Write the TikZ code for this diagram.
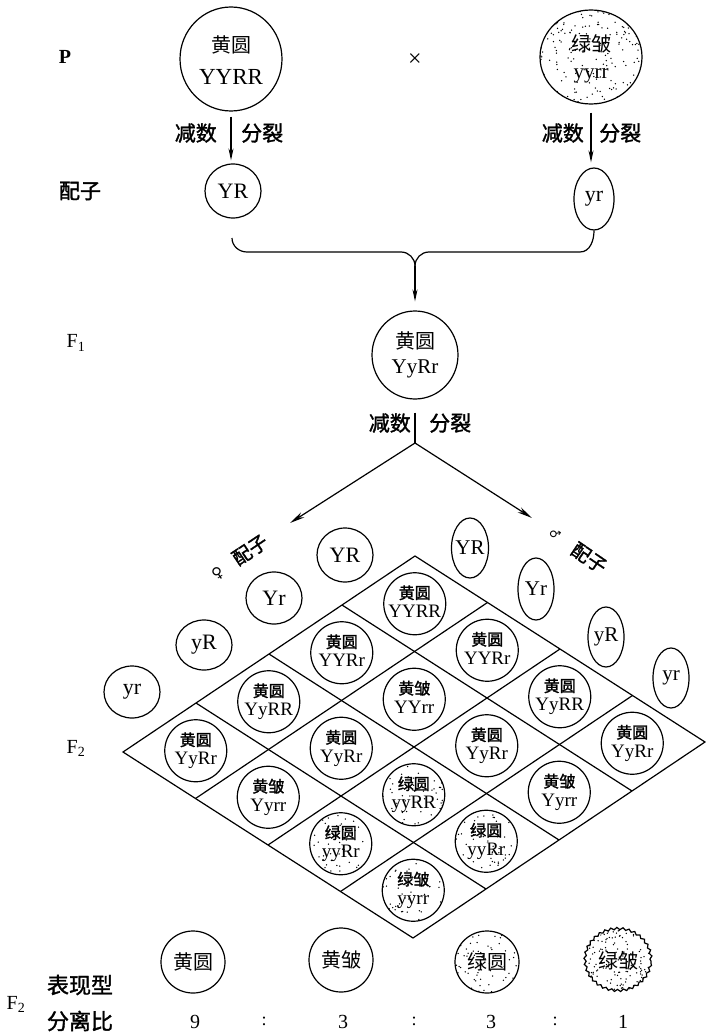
\documentclass[tikz,border=0pt]{standalone}
\usepackage{fontspec}
\setmainfont{Liberation Serif}
\newfontfamily\cjk{Noto Sans CJK SC}
\newfontfamily\cjkb[FakeBold=1.5]{Noto Sans CJK SC}
\newfontfamily\symf{DejaVu Sans}
\usetikzlibrary{shapes.geometric, arrows.meta, calc, decorations.pathmorphing}

\newcommand\fs[1]{\fontsize{#1}{#1}\selectfont}
\newcommand\zw[1]{\makebox[0pt]{#1}}

\tikzset{
  ln/.style={line width=1.2pt},
  arr/.style={ln, -{Stealth[length=12pt, width=5pt]}},
  arrb/.style={ln, -{Stealth[length=15pt, width=6pt]}},
  oval/.style 2 args={draw, ln, ellipse, inner sep=0pt, minimum width=#1, minimum height=#2},
  stipple/.style 2 args={path picture={
      \foreach \k in {1,...,#1}{
        \fill ($(path picture bounding box.center)+({rand*#2pt},{rand*#2pt})$) circle[radius=0.75pt];}}},
  speckled/.style={stipple={55}{31}},
  cn/.style={font=\cjk\fs{#1}, inner sep=0pt},
  cnb/.style={font=\cjkb\fs{#1}, inner sep=0pt},
  lat/.style={font=\fs{#1}, inner sep=0pt},
  sym/.style={font=\symf\fs{#1}, inner sep=0pt},
  cellshape/.style={oval={62pt}{62pt}},
}

% one square of the Punnett grid: shape, phenotype, genotype
\newcommand\cell[5]{%
  \node[cellshape,#5] (#1) at #2 {};
  \node[cnb=16] (#1a) at ([yshift=11pt]#1.center) {#3};
  \node[lat=19, text height=12pt, text depth=4pt] (#1b) at ([yshift=-10pt]#1.center) {#4};
}

\begin{document}
\pgfmathsetseed{12}
\begin{tikzpicture}[x=1pt, y=-1pt]
  \fill[white] (0,0) rectangle (706,1035);
  \useasboundingbox (0,0) rectangle (706,1035);

  % generation labels
  \node[font=\bfseries\fs{20}, inner sep=0pt] (lP) at (65,57) {P};
  \node[cnb=21] (lG) at (80,191) {配子};
  \node[lat=20] (lF1) at (76,343) {F\textsubscript{1}};
  \node[lat=20] (lF2) at (76,748) {F\textsubscript{2}};

  % parents
  \node[oval={102pt}{104pt}] (Pa) at (231,59) {};
  \node[cn=20] (Pa1) at (231,45) {黄圆};
  \node[lat=23] (Pa2) at (231,77) {YYRR};
  \node[lat=24] (cross) at (415,60) {×};
  \node[oval={102pt}{94pt}, stipple={220}{52}] (Pb) at (591,57) {};
  \node[cn=20] (Pb1) at (591,44) {绿皱};
  \node[lat=21, text height=12pt, text depth=5pt] (Pb2) at (591,75) {yyrr};

  % parental gametes
  \node[oval={56pt}{54pt}, lat=22] (Ga) at (233,191) {\zw{YR}};
  \node[oval={40pt}{62pt}, lat=22] (Gb) at (594,199) {\zw{yr}};
  \draw[arr, shorten <=5pt, shorten >=3pt] (Pa.south) -- (Pa.south |- Ga.north);
  \draw[arr, shorten <=8pt, shorten >=5pt] (Pb.south) -- (Pb.south |- Gb.north);
  \node[cnb=21, anchor=east] (m1a) at (217,133) {减数};
  \node[cnb=21, anchor=west] (m1b) at (241,133) {分裂};
  \node[cnb=21, anchor=east] (m2a) at (584,133) {减数};
  \node[cnb=21, anchor=west] (m2b) at (599,133) {分裂};

  % fertilisation bracket
  \coordinate (bl) at (232,238);
  \coordinate (jn) at (415,266);
  \draw[ln] (bl) to[out=-90,in=180] (247,252) -- (401,252) to[out=0,in=90] (jn);
  \draw[ln] (Gb.south) to[out=-90,in=0] (580,252) -- (429,252) to[out=180,in=90] (jn);

  % F1
  \node[oval={86pt}{88pt}] (F1) at (415,355) {};
  \node[cn=20] (F1a) at (415,341) {黄圆};
  \node[lat=21, text height=13pt, text depth=4pt] (F1b) at (415,369) {YyRr};
  \draw[arr, shorten >=9pt] (jn) -- (F1.north);

  \coordinate (ap) at (415,443);
  \draw[ln, shorten <=13pt] (F1.south) -- (ap);
  \node[cnb=21, anchor=east] (m3a) at (411,423) {减数};
  \node[cnb=21, anchor=west] (m3b) at (429,423) {分裂};
  \coordinate (fa) at (290,523);
  \coordinate (ma) at (532,518);
  \draw[arrb] (ap) -- (fa);
  \draw[arrb] (ap) -- (ma);

  % female gametes
  \node[sym=15, rotate=34] (fs) at (218,574) {♀};
  \node[cnb=19, rotate=34] (fl) at (250,550) {配子};
  \node[oval={56pt}{54pt}, lat=22] (f0) at (345,555) {\zw{YR}};
  \node[oval={56pt}{52pt}, lat=22] (f1) at (274,598) {\zw{Yr}};
  \node[oval={56pt}{50pt}, lat=22] (f2) at (204,645) {\zw{yR}};
  \node[oval={56pt}{52pt}, lat=22] (f3) at (132,692) {\zw{yr}};

  % male gametes
  \node[sym=12, rotate=-34] (ms) at (555,534) {♂};
  \node[cnb=19, rotate=-34] (ml) at (589,558) {配子};
  \node[oval={37pt}{60pt}, lat=21] (m0) at (470,548) {\zw{YR}};
  \node[oval={36pt}{62pt}, lat=21] (m1) at (536,589) {\zw{Yr}};
  \node[oval={36pt}{60pt}, lat=21] (m2) at (606,637) {\zw{yR}};
  \node[oval={36pt}{60pt}, lat=21] (m3) at (671,678) {\zw{yr}};

  % Punnett grid
  \begin{scope}[shift={(415,556)}, x={(-73pt,-49pt)}, y={(72.5pt,-46.5pt)}]
    \draw[ln] (0,0) -- (4,0) -- (4,4) -- (0,4) -- cycle;
    \foreach \k in {1,2,3} {
      \draw[ln] (\k,0) -- (\k,4);
      \draw[ln] (0,\k) -- (4,\k);
    }
    \cell{c00}{(0.5,0.5)}{黄圆}{YYRR}{}
    \cell{c01}{(0.5,1.5)}{黄圆}{YYRr}{}
    \cell{c02}{(0.5,2.5)}{黄圆}{YyRR}{}
    \cell{c03}{(0.5,3.5)}{黄圆}{YyRr}{}
    \cell{c10}{(1.5,0.5)}{黄圆}{YYRr}{}
    \cell{c11}{(1.5,1.5)}{黄皱}{YYrr}{}
    \cell{c12}{(1.5,2.5)}{黄圆}{YyRr}{}
    \cell{c13}{(1.5,3.5)}{黄皱}{Yyrr}{}
    \cell{c20}{(2.5,0.5)}{黄圆}{YyRR}{}
    \cell{c21}{(2.5,1.5)}{黄圆}{YyRr}{}
    \cell{c22}{(2.5,2.5)}{绿圆}{yyRR}{speckled}
    \cell{c23}{(2.5,3.5)}{绿圆}{yyRr}{speckled}
    \cell{c30}{(3.5,0.5)}{黄圆}{YyRr}{}
    \cell{c31}{(3.5,1.5)}{黄皱}{Yyrr}{}
    \cell{c32}{(3.5,2.5)}{绿圆}{yyRr}{speckled}
    \cell{c33}{(3.5,3.5)}{绿皱}{yyrr}{speckled}
  \end{scope}

  % F2 phenotypes and ratio
  \node[oval={64pt}{62pt}, cn=20] (h1) at (193,962) {\zw{黄圆}};
  \node[oval={64pt}{64pt}, cn=20] (h2) at (341,960) {\zw{黄皱}};
  \node[oval={64pt}{62pt}, cn=20, stipple={100}{33}] (h3) at (487,962) {\zw{绿圆}};
  \node[ellipse, inner sep=0pt, minimum width=66pt, minimum height=62pt, cn=20, stipple={170}{34}] (h4) at (618,961) {\zw{绿皱}};
  \draw[ln, decorate, decoration={snake, segment length=6pt, amplitude=1.1pt}] (h4.center) ellipse [x radius=33pt, y radius=31pt];

  \node[cnb=22] (lPh) at (80,985) {表现型};
  \node[cnb=22] (lR) at (80,1021) {分离比};
  \node[lat=20] (lF2b) at (16,1004) {F\textsubscript{2}};
  \node[lat=20] (r1) at (195,1022) {9};
  \node[lat=18] (s1) at (264,1021) {:};
  \node[lat=20] (r2) at (343,1022) {3};
  \node[lat=18] (s2) at (414,1021) {:};
  \node[lat=20] (r3) at (491,1022) {3};
  \node[lat=18] (s3) at (555,1021) {:};
  \node[lat=20] (r4) at (623,1022) {1};
\end{tikzpicture}
\end{document}
